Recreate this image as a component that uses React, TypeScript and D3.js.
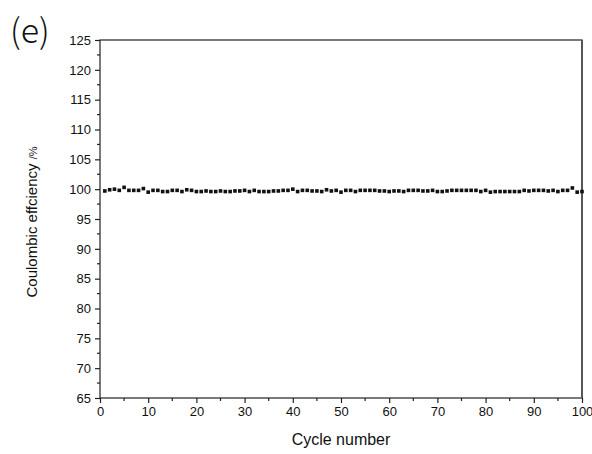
import React, { useRef, useEffect } from "react";
import * as d3 from "d3";

// cycle number 1..100
const cycles: number[] = Array.from({ length: 100 }, (_, i) => i + 1);
// coulombic efficiency (%)
const efficiency: number[] = [
  99.7, 99.9, 100.0, 99.8, 100.3, 99.8, 99.8, 99.8, 100.1, 99.5,
  99.8, 99.8, 99.6, 99.6, 99.8, 99.8, 99.6, 99.9, 99.8, 99.6,
  99.6, 99.7, 99.6, 99.6, 99.7, 99.6, 99.6, 99.7, 99.7, 99.8,
  99.6, 99.8, 99.6, 99.6, 99.6, 99.7, 99.7, 99.8, 99.8, 100.0,
  99.6, 99.8, 99.8, 99.7, 99.7, 99.6, 99.9, 99.7, 99.8, 99.5,
  99.8, 99.8, 99.6, 99.8, 99.8, 99.8, 99.8, 99.7, 99.7, 99.6,
  99.7, 99.7, 99.6, 99.8, 99.8, 99.8, 99.7, 99.7, 99.8, 99.6,
  99.6, 99.7, 99.8, 99.8, 99.8, 99.8, 99.8, 99.8, 99.6, 99.8,
  99.5, 99.6, 99.6, 99.6, 99.6, 99.6, 99.6, 99.8, 99.7, 99.8,
  99.8, 99.8, 99.7, 99.8, 99.6, 99.8, 99.8, 100.2, 99.5, 99.6,
];
const xTicks: number[] = [0, 10, 20, 30, 40, 50, 60, 70, 80, 90, 100];
const yTicks: number[] = [65, 70, 75, 80, 85, 90, 95, 100, 105, 110, 115, 120, 125];

const W = 592;
const H = 454;
const m = { top: 40, right: 10, bottom: 56, left: 100 };

const App = () => {
  const ref = useRef<SVGSVGElement | null>(null);

  useEffect(() => {
    if (!ref.current) return;
    const svg = d3.select(ref.current);
    svg.selectAll("*").remove();

    const x = d3.scaleLinear().domain([0, 100]).range([m.left, W - m.right]);
    const y = d3.scaleLinear().domain([65, 125]).range([H - m.bottom, m.top]);
    const font = "Arial, 'Liberation Sans', sans-serif";
    const ax = "#222";

    // frame
    svg.append("rect")
      .attr("x", x(0)).attr("y", y(125))
      .attr("width", x(100) - x(0)).attr("height", y(65) - y(125))
      .attr("fill", "none").attr("stroke", ax).attr("stroke-width", 1.2);
    // right edge a bit heavier
    svg.append("line")
      .attr("x1", x(100)).attr("x2", x(100))
      .attr("y1", y(125)).attr("y2", y(65))
      .attr("stroke", "#555").attr("stroke-width", 2);

    // x axis
    const gx = svg.append("g")
      .attr("transform", `translate(0,${y(65)})`)
      .call(
        d3.axisBottom(x).tickValues(xTicks).tickSize(5).tickPadding(4)
          .tickFormat(d3.format("d"))
      );
    gx.select(".domain").remove();
    gx.selectAll("line").attr("stroke", ax).attr("stroke-width", 1.2);
    gx.selectAll("text").attr("font-family", font).attr("font-size", 13).attr("fill", "#111");
    svg.append("g")
      .attr("transform", `translate(0,${y(65)})`)
      .selectAll("line")
      .data(d3.range(5, 100, 10))
      .join("line")
      .attr("x1", (d) => x(d)).attr("x2", (d) => x(d))
      .attr("y1", 0).attr("y2", 3)
      .attr("stroke", ax).attr("stroke-width", 1.2);

    // y axis
    const gy = svg.append("g")
      .attr("transform", `translate(${x(0)},0)`)
      .call(
        d3.axisLeft(y).tickValues(yTicks).tickSize(5).tickPadding(4)
          .tickFormat(d3.format("d"))
      );
    gy.select(".domain").remove();
    gy.selectAll("line").attr("stroke", ax).attr("stroke-width", 1.2);
    gy.selectAll("text").attr("font-family", font).attr("font-size", 13).attr("fill", "#111");
    svg.append("g")
      .attr("transform", `translate(${x(0)},0)`)
      .selectAll("line")
      .data(d3.range(67.5, 125, 5))
      .join("line")
      .attr("x1", 0).attr("x2", -3)
      .attr("y1", (d) => y(d)).attr("y2", (d) => y(d))
      .attr("stroke", ax).attr("stroke-width", 1.2);

    // points
    svg.append("g")
      .selectAll("rect")
      .data(cycles)
      .join("rect")
      .attr("x", (d) => x(d) - 1.8)
      .attr("y", (d, i) => y(efficiency[i]) - 1.8)
      .attr("width", 3.6).attr("height", 3.6)
      .attr("fill", "#111");

    // axis titles
    svg.append("text")
      .attr("x", (x(0) + x(100)) / 2).attr("y", 445)
      .attr("text-anchor", "middle")
      .attr("font-family", font).attr("font-size", 16).attr("fill", "#111")
      .text("Cycle number");

    const yl = svg.append("text")
      .attr("transform", `translate(37,${(y(65) + y(125)) / 2 + 3}) rotate(-90)`)
      .attr("text-anchor", "middle")
      .attr("font-family", font).attr("font-size", 15).attr("fill", "#111");
    yl.append("tspan").text("Coulombic effciency ");
    yl.append("tspan").attr("font-size", 11).text("/%");

    // panel letter
    svg.append("text")
      .attr("x", 10).attr("y", 43)
      .attr("font-family", "'Noto Sans CJK JP', 'DejaVu Sans', sans-serif")
      .attr("font-weight", 300)
      .attr("font-size", 34).attr("fill", "#111")
      .text("(e)");
  }, []);

  return (
    <svg
      ref={ref}
      width={W}
      height={H}
      style={{ position: "absolute", left: 0, top: 0, background: "#fff" }}
    />
  );
};

export default App;
